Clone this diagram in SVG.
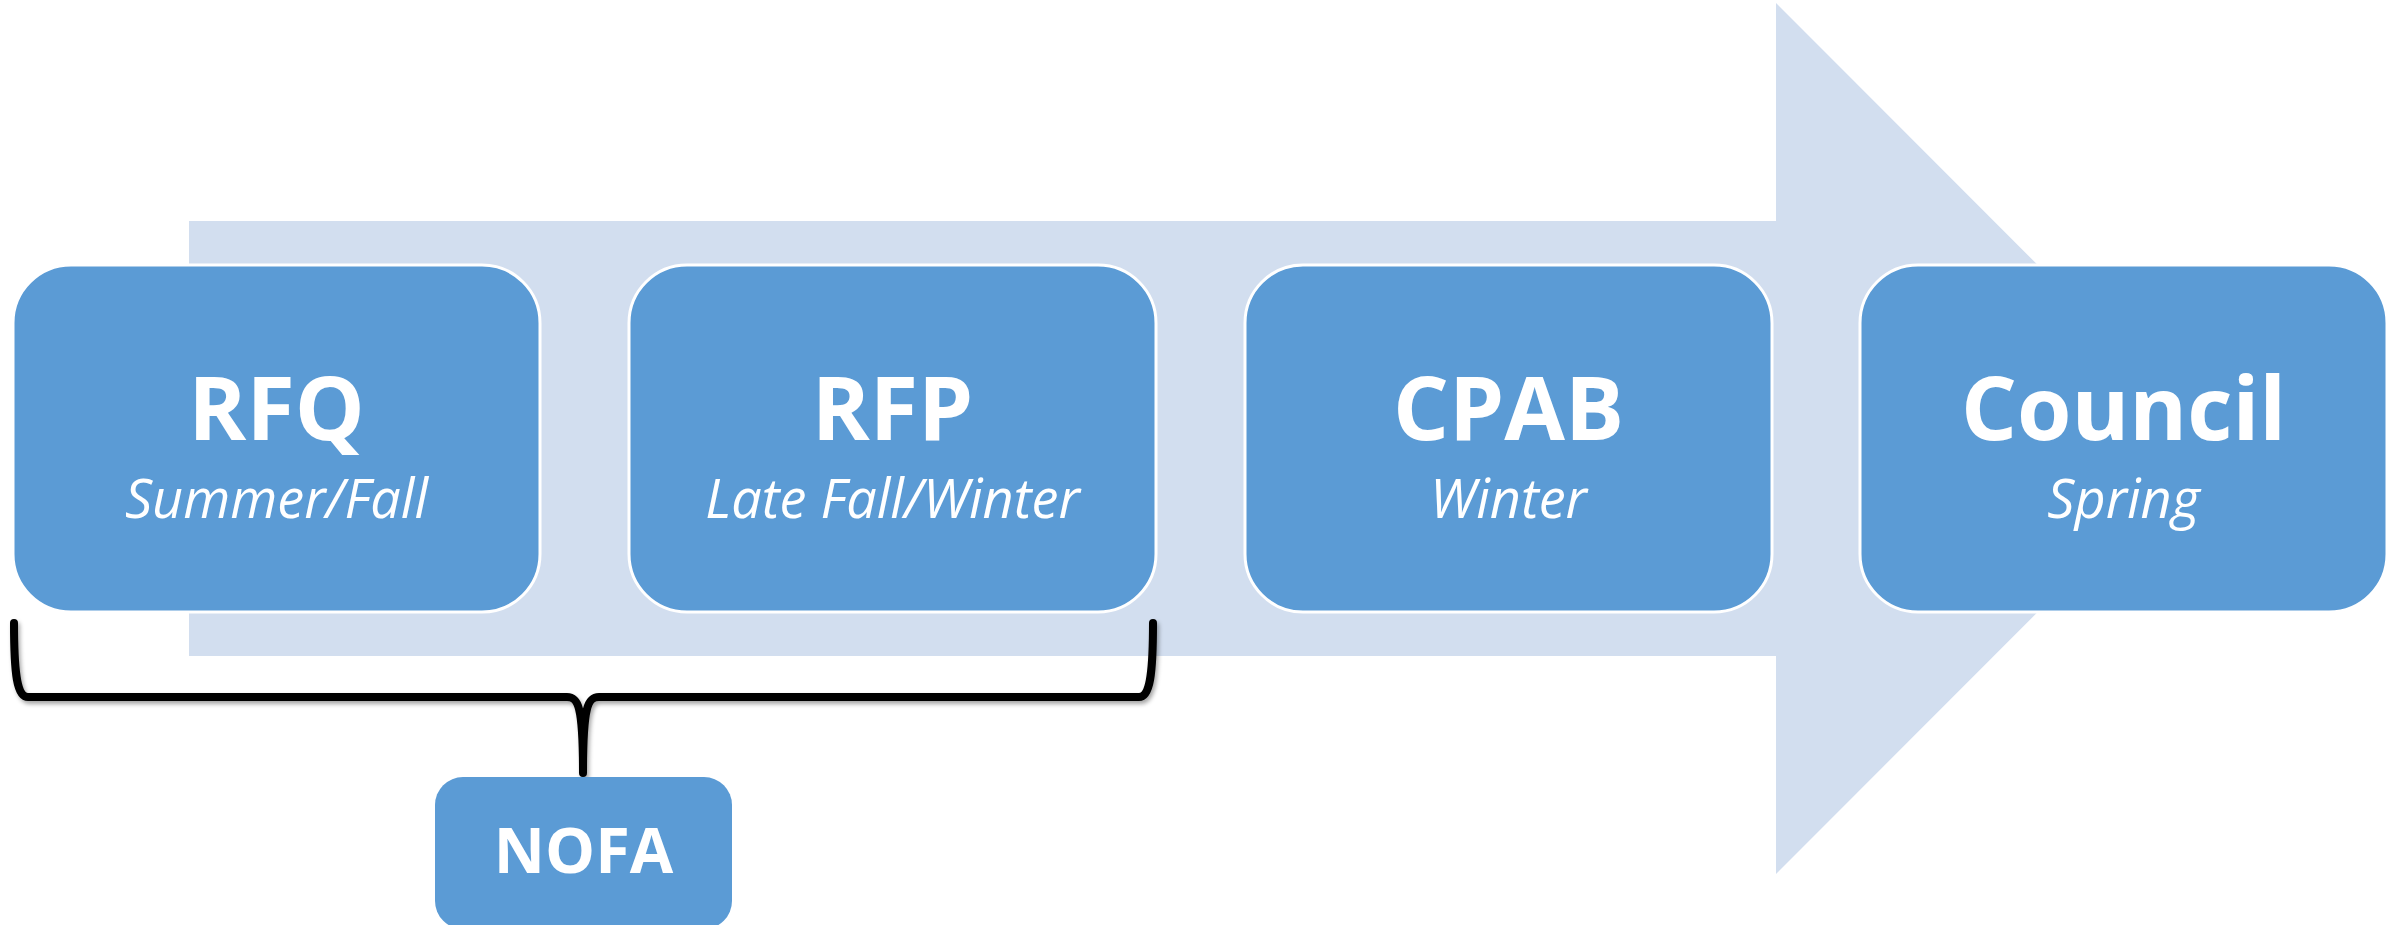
<svg xmlns="http://www.w3.org/2000/svg" width="2395" height="925" viewBox="0 0 2395 925">
<style>
.box{fill:#5B9BD5;stroke:#FFFFFF;stroke-width:3}
.title{font-family:"Open Sans","Liberation Sans",sans-serif;font-weight:bold;font-size:88px;fill:#FFFFFF;text-anchor:middle}
.sub{font-family:"Open Sans","Liberation Sans",sans-serif;font-style:italic;font-weight:normal;font-size:54px;fill:#FFFFFF;text-anchor:middle}
.nofa{font-family:"Open Sans","Liberation Sans",sans-serif;font-weight:bold;font-size:63px;fill:#FFFFFF;text-anchor:middle}
.brace{fill:none;stroke:#000000;stroke-width:8;stroke-linecap:round;stroke-linejoin:round}
</style>
<defs>
<filter id="shadow" x="-5%" y="-20%" width="110%" height="150%">
<feDropShadow dx="2" dy="3" stdDeviation="2" flood-color="#000000" flood-opacity="0.35"/>
</filter>
</defs>
<rect width="2395" height="925" fill="#FFFFFF"/>
<g id="arrow">
<polygon points="189,221 1776,221 1776,3 2211,438.5 1776,874 1776,656 189,656" fill="#D2DEEF"/>
</g>
<g id="connectors">
<path class="brace" filter="url(#shadow)" d="M14,623 C14,675 17,697 28,697 L567,697 C578,697 583,705 583,773 C583,705 588,697 599,697 L1139,697 C1150,697 1153,675 1153,623"/>
</g>
<g id="node-rfq">
<rect class="box" x="13" y="265" width="527" height="347" rx="58" ry="58"/>
<text class="title" x="276.5" y="440">RFQ</text>
<text class="sub" x="276.5" y="518">Summer/Fall</text>
</g>
<g id="node-rfp">
<rect class="box" x="629" y="265" width="527" height="347" rx="58" ry="58"/>
<text class="title" x="892.5" y="440">RFP</text>
<text class="sub" x="892.5" y="518">Late Fall/Winter</text>
</g>
<g id="node-cpab">
<rect class="box" x="1245" y="265" width="527" height="347" rx="58" ry="58"/>
<text class="title" x="1508.5" y="440">CPAB</text>
<text class="sub" x="1508.5" y="518">Winter</text>
</g>
<g id="node-council">
<rect class="box" x="1860" y="265" width="527" height="347" rx="58" ry="58"/>
<text class="title" x="2123.5" y="440">Council</text>
<text class="sub" x="2123.5" y="518">Spring</text>
</g>
<g id="node-nofa">
<rect x="435" y="777" width="297" height="152" rx="28" ry="28" fill="#5B9BD5"/>
<text class="nofa" x="583.5" y="873">NOFA</text>
</g>
</svg>
